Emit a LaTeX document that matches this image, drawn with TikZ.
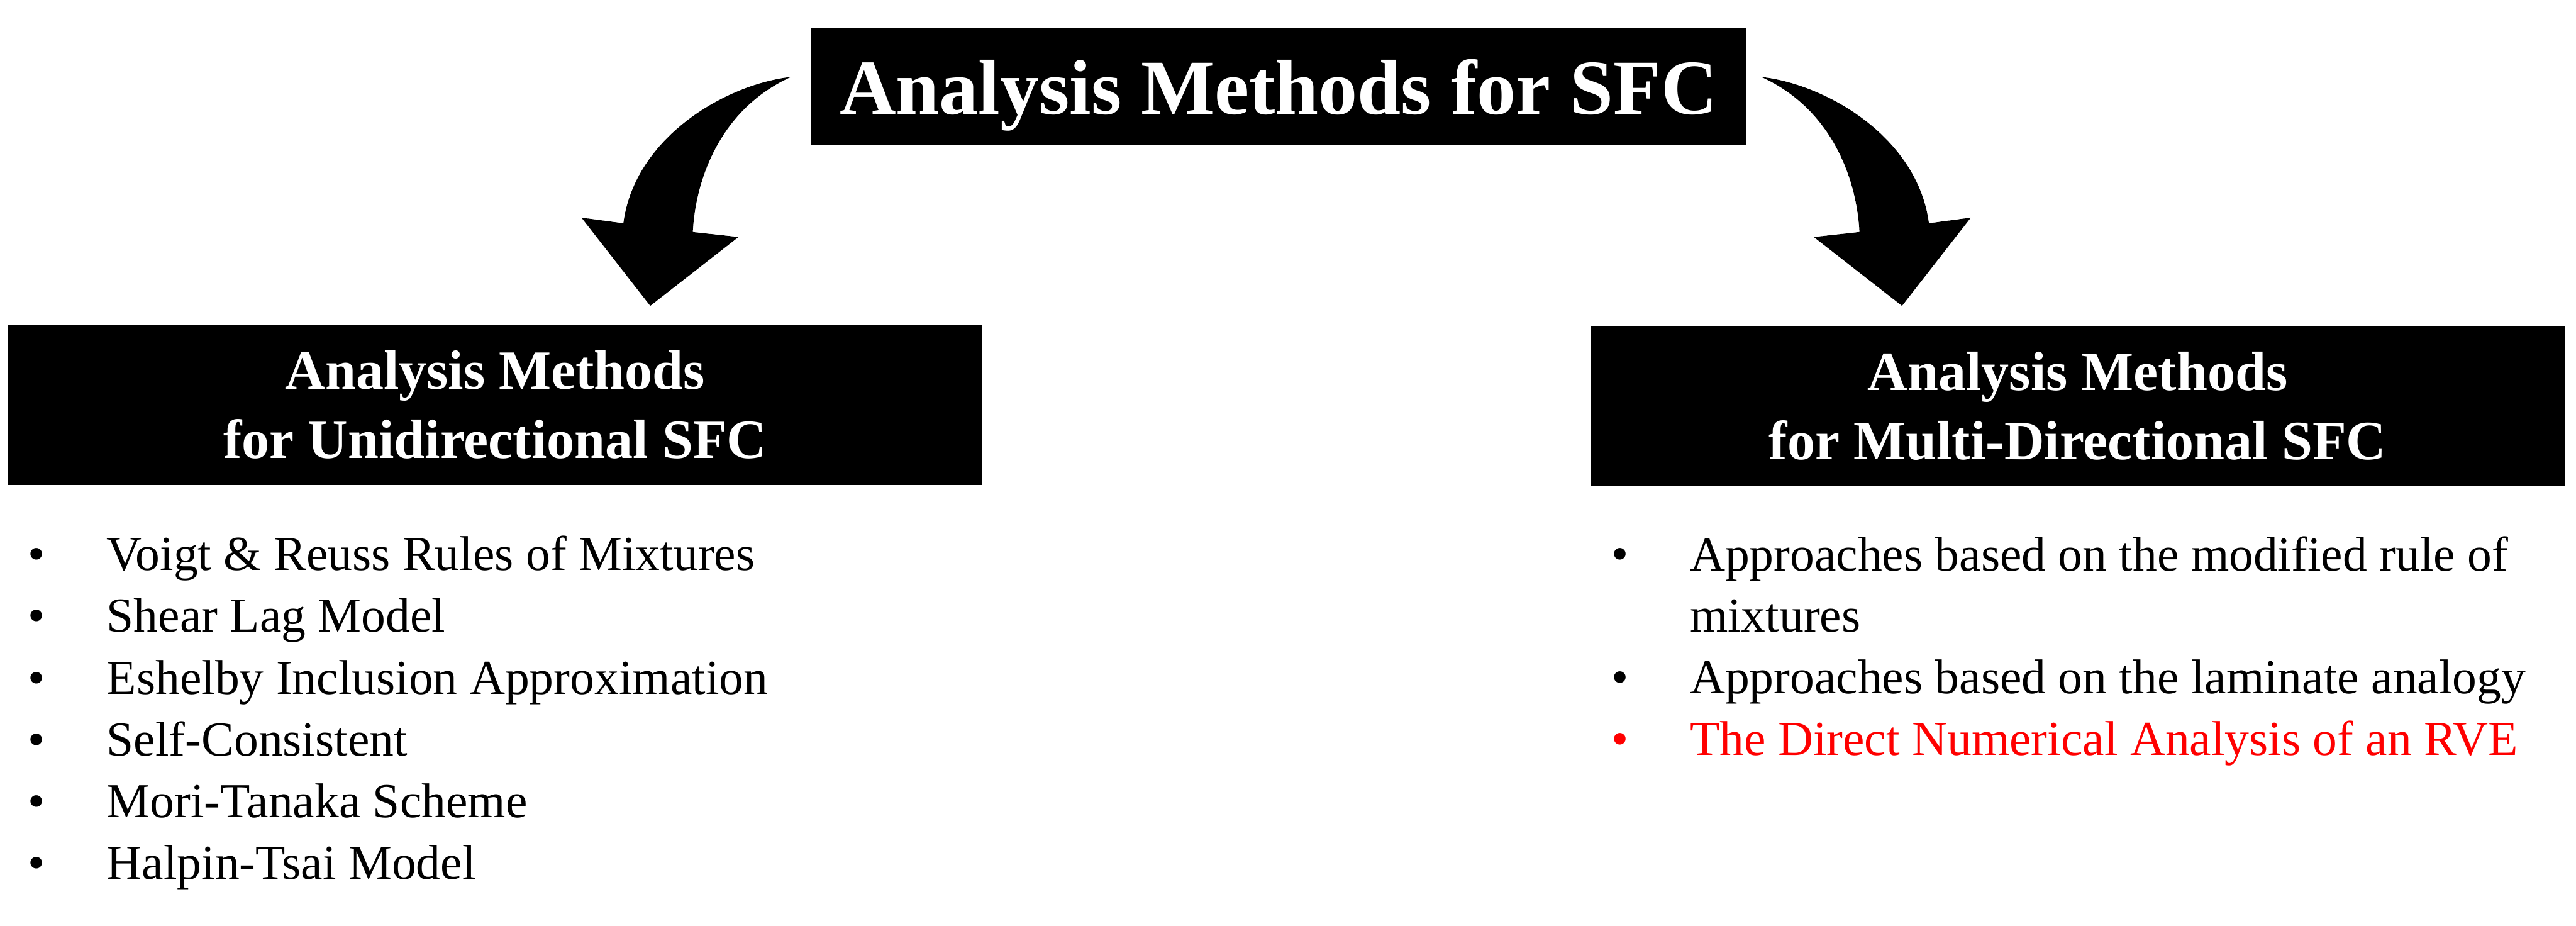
\documentclass[tikz,border=0pt]{standalone}
\usepackage{fontspec}
\setmainfont{Liberation Serif}

\begin{document}
\begin{tikzpicture}[x=1cm, y=1cm,
    headbox/.style={fill=black, text=white, inner sep=0pt, text depth=0pt,
        minimum width=14.94cm, minimum height=1.87cm,
        font=\bfseries\fontsize{35.5}{40}\selectfont},
    subbox/.style={fill=black, text=white, inner sep=0pt, align=center,
        minimum width=15.58cm, minimum height=2.56cm,
        font=\bfseries\fontsize{25.2}{31.5}\selectfont},
    item/.style={anchor=base west, inner sep=0pt, font=\fontsize{22.2}{28}\selectfont},
    bul/.style={anchor=base, inner sep=0pt, font=\fontsize{22.2}{28}\selectfont},
    bendarrow/.pic={
        \fill (0,0) .. controls (-1.05,-0.12) and (-2.50,-0.97) .. (-2.68,-2.34)
            -- (-3.35,-2.25) -- (-2.25,-3.66) -- (-0.84,-2.56) -- (-1.57,-2.48)
            .. controls (-1.53,-1.67) and (-1.15,-0.52) .. cycle;
    }]
    \useasboundingbox (0,0) rectangle (41.2,-14.8);

    \node[headbox] (sfc) at (20.45,-1.385) {Analysis Methods for SFC};
    \node[subbox] (uni) at (7.92,-6.47) {Analysis Methods\\for Unidirectional SFC};
    \node[subbox] (multi) at (33.23,-6.495) {Analysis Methods\\for Multi-Directional SFC};

    % curved arrows down to both groups
    \pic at (12.65,-1.23) {bendarrow};
    \pic[xscale=-1] at (28.17,-1.23) {bendarrow};

    \foreach \i/\txt in {0/{Voigt \& Reuss Rules of Mixtures}, 1/{Shear Lag Model},
        2/{Eshelby Inclusion Approximation}, 3/{Self-Consistent},
        4/{Mori-Tanaka Scheme}, 5/{Halpin-Tsai Model}} {
        \node[bul] (ub\i) at (0.58,{-9.12-0.988*\i}) {\textbullet};
        \node[item] (u\i) at (1.70,{-9.12-0.988*\i}) {\txt};
    }

    % base of a two-line node is its last line
    \node[bul] (mb1) at (25.91,-9.12) {\textbullet};
    \node[item, align=left] (m1) at (27.02,-10.108) {Approaches based on the modified rule of\\mixtures};
    \node[bul] (mb2) at (25.91,-11.09) {\textbullet};
    \node[item] (m2) at (27.02,-11.09) {Approaches based on the laminate analogy};
    \node[bul, text=red] (mb3) at (25.91,-12.08) {\textbullet};
    \node[item, text=red] (m3) at (27.02,-12.08) {The Direct Numerical Analysis of an RVE};
\end{tikzpicture}
\end{document}
